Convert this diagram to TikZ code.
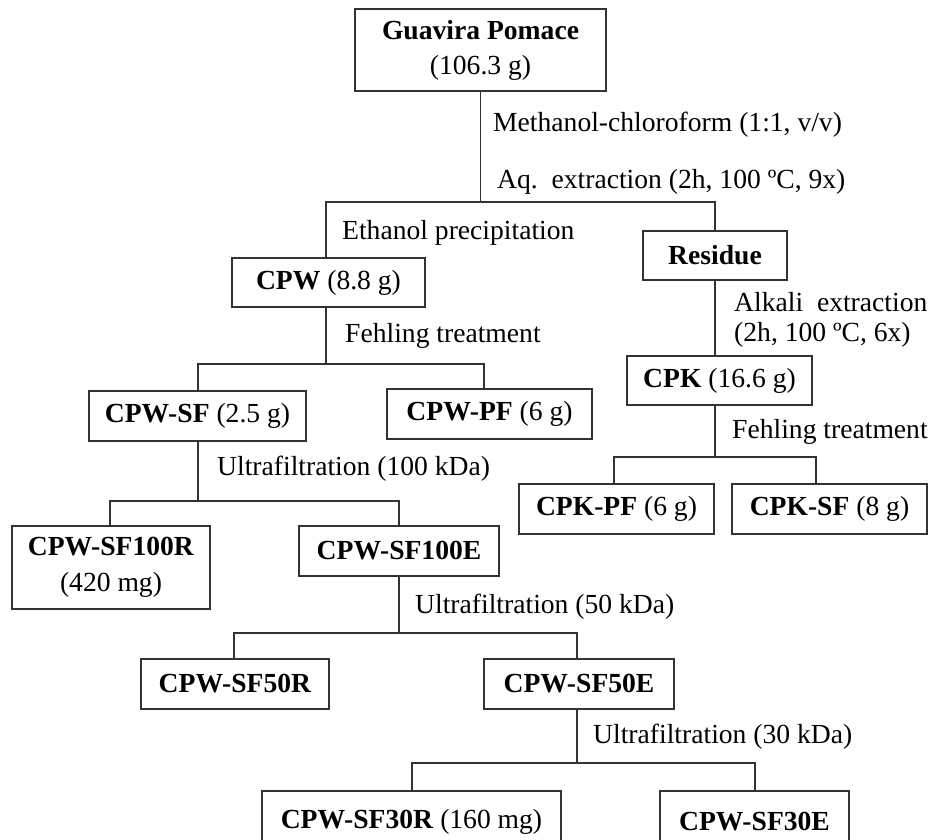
\documentclass[tikz,border=0pt]{standalone}
\usepackage{fontspec}
\setmainfont{Liberation Serif}
\begin{document}
\begin{tikzpicture}[x=1pt,y=-1pt,
  box/.style={draw=black!80, line width=1.3pt, inner sep=0pt, align=center, font=\fontsize{27.6}{32}\selectfont},
  lbl/.style={anchor=west, inner sep=0pt, font=\fontsize{27.6}{32}\selectfont},
  link/.style={draw=black!80, line width=1.3pt}]
\useasboundingbox (0,0) rectangle (931,839);
\clip (0,0) rectangle (931,839);
% boxes
\node[box, minimum width=251pt, minimum height=82pt] (gp) at (480.5,50) {\textbf{Guavira Pomace}\\[3pt](106.3 g)};
\node[box, minimum width=193pt, minimum height=49pt] (cpw) at (328.5,282.5) {\textbf{CPW} (8.8 g)};
\node[box, minimum width=144pt, minimum height=49pt] (res) at (715,255.5) {\textbf{Residue}};
\node[box, minimum width=185pt, minimum height=49pt] (cpk) at (719.5,380.5) {\textbf{CPK} (16.6 g)};
\node[box, minimum width=195pt, minimum height=50pt] (cpkpf) at (616.5,509) {\textbf{CPK-PF} (6 g)};
\node[box, minimum width=195pt, minimum height=50pt] (cpksf) at (829.5,509) {\textbf{CPK-SF} (8 g)};
\node[box, minimum width=217pt, minimum height=50pt] (cpwsf) at (197.5,416) {\textbf{CPW-SF} (2.5 g)};
\node[box, minimum width=205pt, minimum height=50pt] (cpwpf) at (489.5,414) {\textbf{CPW-PF} (6 g)};
\node[box, minimum width=198pt, minimum height=83pt] (sf100r) at (111,567.5) {\textbf{CPW-SF100R}\\[4pt](420 mg)};
\node[box, minimum width=200pt, minimum height=50pt] (sf100e) at (399,551) {\textbf{CPW-SF100E}};
\node[box, minimum width=188pt, minimum height=50pt] (sf50r) at (235,684) {\textbf{CPW-SF50R}};
\node[box, minimum width=190pt, minimum height=50pt] (sf50e) at (579,684) {\textbf{CPW-SF50E}};
\node[box, minimum width=299pt, minimum height=62pt] (sf30r) at (411.5,822) {\textbf{CPW-SF30R} (160 mg)};
\node[box, minimum width=189pt, minimum height=62pt] (sf30e) at (754.5,822) {\textbf{CPW-SF30E}};
% junctions
\coordinate (a1) at (326,202); \coordinate (a2) at (715,202);
\coordinate (b1) at (198,364); \coordinate (b2) at (484,364);
\coordinate (c1) at (614,457); \coordinate (c2) at (816,457);
\coordinate (d1) at (110,501); \coordinate (d2) at (399,501);
\coordinate (e1) at (234,633); \coordinate (e2) at (577,633);
\coordinate (f1) at (412,763); \coordinate (f2) at (755,763);
% connectors
\draw[link] (gp.south) -- (gp.south |- a1);
\draw[link] (a1 |- cpw.north) -- (a1) -- (a2) -- (a2 |- res.north);
\draw[link] (a1 |- cpw.south) -- (b1 -| a1);
\draw[link] (b1 |- cpwsf.north) -- (b1) -- (b2) -- (b2 |- cpwpf.north);
\draw[link] (res.south) -- (res.south |- cpk.north);
\draw[link] (a2 |- cpk.south) -- (a2 |- c1);
\draw[link] (c1 |- cpkpf.north) -- (c1) -- (c2) -- (c2 |- cpksf.north);
\draw[link] (b1 |- cpwsf.south) -- (b1 |- d1);
\draw[link] (d1 |- sf100r.north) -- (d1) -- (d2) -- (d2 |- sf100e.north);
\draw[link] (d2 |- sf100e.south) -- (d2 |- e1);
\draw[link] (e1 |- sf50r.north) -- (e1) -- (e2) -- (e2 |- sf50e.north);
\draw[link] (e2 |- sf50e.south) -- (e2 |- f1);
\draw[link] (f1 |- sf30r.north) -- (f1) -- (f2) -- (f2 |- sf30e.north);
% labels
\node[lbl] (l1) at (493,125) {Methanol-chloroform (1:1, v/v)};
\node[lbl] (l2) at (497,182) {Aq.\ \ extraction (2h, 100 ºC, 9x)};
\node[lbl] (l3) at (342,233) {Ethanol precipitation};
\node[lbl] (l4) at (345,336) {Fehling treatment};
\node[lbl] (l5) at (734,302) {Alkali\ \ extraction};
\node[lbl] (l6) at (734,335) {(2h, 100 ºC, 6x)};
\node[lbl] (l7) at (732,432) {Fehling treatment};
\node[lbl] (l8) at (217,469) {Ultrafiltration (100 kDa)};
\node[lbl] (l9) at (415,607) {Ultrafiltration (50 kDa)};
\node[lbl] (l10) at (593,737) {Ultrafiltration (30 kDa)};
\end{tikzpicture}
\end{document}
